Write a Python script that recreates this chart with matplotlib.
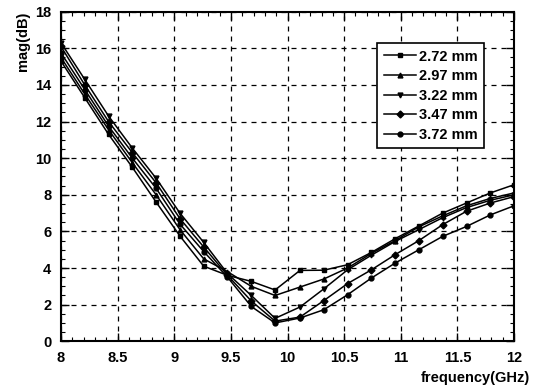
import matplotlib
matplotlib.use("Agg")
import matplotlib.pyplot as plt
from matplotlib.ticker import MultipleLocator, FormatStrFormatter

plt.rcParams['font.family'] = ['Liberation Sans', 'DejaVu Sans']
plt.rcParams['font.weight'] = 'bold'

freq = [8.00, 8.21, 8.42, 8.63, 8.84, 9.05, 9.26, 9.47, 9.68, 9.89,
        10.11, 10.32, 10.53, 10.74, 10.95, 11.16, 11.37, 11.58, 11.79, 12.00]

mag_272 = [15.3, 13.3, 11.3, 9.5, 7.6, 5.75, 4.1, 3.6, 3.27, 2.8,
           3.87, 3.88, 4.18, 4.85, 5.6, 6.3, 7.0, 7.55, 8.1, 8.55]
mag_297 = [15.5, 13.5, 11.55, 9.75, 8.0, 6.1, 4.5, 3.8, 3.0, 2.5,
           2.96, 3.4, 4.0, 4.8, 5.5, 6.25, 6.85, 7.4, 7.8, 8.1]
mag_322 = [16.3, 14.3, 12.3, 10.55, 8.9, 7.0, 5.4, 3.7, 2.5, 1.25,
           1.87, 2.86, 3.9, 4.7, 5.45, 6.1, 6.75, 7.3, 7.7, 8.0]
mag_347 = [16.1, 14.0, 12.0, 10.3, 8.65, 6.7, 5.15, 3.6, 2.2, 1.1,
           1.32, 2.22, 3.15, 3.9, 4.73, 5.5, 6.37, 7.1, 7.55, 7.9]
mag_372 = [15.75, 13.75, 11.75, 10.0, 8.35, 6.4, 4.9, 3.5, 1.9, 1.0,
           1.27, 1.72, 2.54, 3.45, 4.27, 5.0, 5.73, 6.27, 6.9, 7.4]

labels = ['2.72 mm', '2.97 mm', '3.22 mm', '3.47 mm', '3.72 mm']
series = [mag_272, mag_297, mag_322, mag_347, mag_372]
markers = ['s', '^', 'v', 'D', 'o']

fig = plt.figure(figsize=(5.42, 3.90), dpi=100)
ax = fig.add_axes([0.1125, 0.125, 0.836, 0.845])

for y, lab, m in zip(series, labels, markers):
    ax.plot(freq, y, color='black', lw=1.1, marker=m, ms=3.5,
            markerfacecolor='black', markeredgecolor='black', label=lab)

ax.set_xlim(8, 12)
ax.set_ylim(0, 18)
ax.xaxis.set_major_locator(MultipleLocator(0.5))
ax.xaxis.set_minor_locator(MultipleLocator(0.1))
ax.yaxis.set_major_locator(MultipleLocator(2))
ax.yaxis.set_minor_locator(MultipleLocator(0.5))
ax.xaxis.set_major_formatter(FormatStrFormatter('%g'))
ax.yaxis.set_major_formatter(FormatStrFormatter('%g'))

ax.tick_params(which='both', direction='in', top=True, right=True,
               labelsize=10.5, pad=7)
ax.tick_params(which='major', length=6, width=1)
ax.tick_params(which='minor', length=3, width=0.8)
for lbl in ax.get_xticklabels() + ax.get_yticklabels():
    lbl.set_fontweight('bold')

ax.grid(True, which='major', color='black', linestyle=(0, (4, 4)), lw=0.9)
for s in ax.spines.values():
    s.set_linewidth(1.5)

fig.text(0.978, 0.02, 'frequency(GHz)', ha='right', va='baseline',
         fontsize=10.5, fontweight='bold')
fig.text(0.03, 0.97, 'mag(dB)', ha='left', va='top', rotation=90,
         fontsize=10.5, fontweight='bold')

leg = ax.legend(loc='upper left', bbox_to_anchor=(0.698, 0.905), frameon=True,
                fancybox=False, edgecolor='black', framealpha=1,
                prop={'weight': 'bold', 'size': 10.5}, handlelength=2.2,
                labelspacing=0.38, borderpad=0.45, handletextpad=0.2,
                borderaxespad=0)
leg.get_frame().set_linewidth(1.2)

fig.savefig('out.png', dpi=100)
